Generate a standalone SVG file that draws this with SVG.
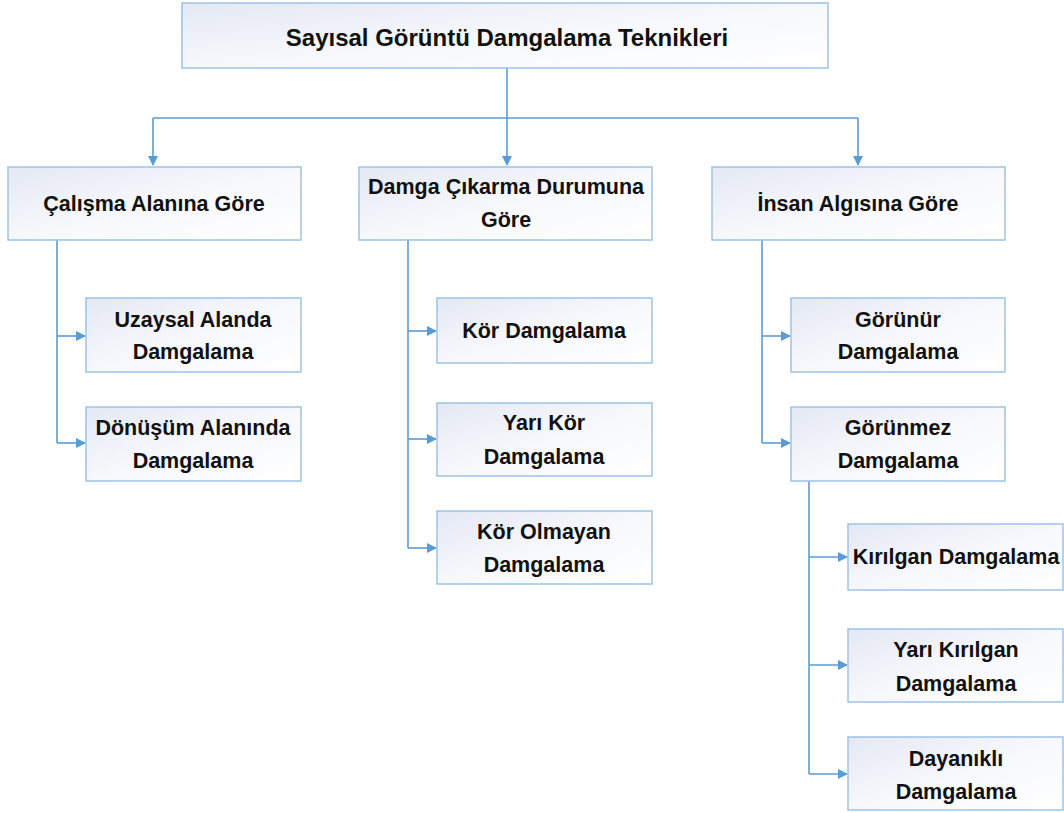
<svg xmlns="http://www.w3.org/2000/svg" width="1064" height="813" viewBox="0 0 1064 813">
<defs>
<linearGradient id="g" x1="0" y1="0" x2="1" y2="1">
<stop offset="0" stop-color="#e3e8f3"/>
<stop offset="0.5" stop-color="#f7f8fc"/>
<stop offset="1" stop-color="#ffffff"/>
</linearGradient>
<marker id="a" markerWidth="10" markerHeight="10" refX="9" refY="5" orient="auto" markerUnits="userSpaceOnUse">
<path d="M0,0 L10,5 L0,10 Z" fill="#5b9bd5"/>
</marker>
<style>
.b{fill:url(#g);stroke:#9dc3e6;stroke-width:1.5}
.t{font-family:"Liberation Sans",Arial,sans-serif;font-weight:bold;font-size:21.5px;fill:#111;text-anchor:middle;dominant-baseline:central}
.c{fill:none;stroke:#5b9bd5;stroke-width:1.6}
</style>
</defs>
<rect width="1064" height="813" fill="#fff"/>
<g id="connectors">
<path class="c" d="M507,68 V118"/>
<path class="c" d="M153,118 H858"/>
<path class="c" d="M153,118 V165" marker-end="url(#a)"/>
<path class="c" d="M507,118 V165" marker-end="url(#a)"/>
<path class="c" d="M858,118 V165" marker-end="url(#a)"/>
<path class="c" d="M57,240 V443"/>
<path class="c" d="M57,336 H85" marker-end="url(#a)"/>
<path class="c" d="M57,443 H85" marker-end="url(#a)"/>
<path class="c" d="M408,240 V548"/>
<path class="c" d="M408,331 H436" marker-end="url(#a)"/>
<path class="c" d="M408,439 H436" marker-end="url(#a)"/>
<path class="c" d="M408,548 H436" marker-end="url(#a)"/>
<path class="c" d="M762,240 V443"/>
<path class="c" d="M762,336 H790" marker-end="url(#a)"/>
<path class="c" d="M762,443 H790" marker-end="url(#a)"/>
<path class="c" d="M809,481 V774"/>
<path class="c" d="M809,557 H847" marker-end="url(#a)"/>
<path class="c" d="M809,665 H847" marker-end="url(#a)"/>
<path class="c" d="M809,774 H847" marker-end="url(#a)"/>
</g>
<g id="root"><rect class="b" x="182" y="3" width="646" height="65"/><text class="t" x="507" y="37" style="font-size:24px">Sayısal Görüntü Damgalama Teknikleri</text></g>
<g id="calisma"><rect class="b" x="8" y="167" width="293" height="73"/><text class="t" x="154" y="204">Çalışma Alanına Göre</text></g>
<g id="damga"><rect class="b" x="359" y="167" width="293" height="73"/><text class="t" x="506" y="187">Damga Çıkarma Durumuna</text><text class="t" x="506" y="220">Göre</text></g>
<g id="insan"><rect class="b" x="712" y="167" width="293" height="73"/><text class="t" x="858" y="204">İnsan Algısına Göre</text></g>
<g id="uzaysal"><rect class="b" x="86" y="298" width="215" height="74"/><text class="t" x="193" y="320">Uzaysal Alanda</text><text class="t" x="193" y="352">Damgalama</text></g>
<g id="donusum"><rect class="b" x="86" y="407" width="215" height="74"/><text class="t" x="193" y="428">Dönüşüm Alanında</text><text class="t" x="193" y="461">Damgalama</text></g>
<g id="kor"><rect class="b" x="437" y="298" width="215" height="65"/><text class="t" x="544" y="331">Kör Damgalama</text></g>
<g id="yarikor"><rect class="b" x="437" y="403" width="215" height="73"/><text class="t" x="544" y="423">Yarı Kör</text><text class="t" x="544" y="457">Damgalama</text></g>
<g id="korolmayan"><rect class="b" x="437" y="511" width="215" height="73"/><text class="t" x="544" y="532">Kör Olmayan</text><text class="t" x="544" y="565">Damgalama</text></g>
<g id="gorunur"><rect class="b" x="791" y="298" width="214" height="74"/><text class="t" x="898" y="320">Görünür</text><text class="t" x="898" y="352">Damgalama</text></g>
<g id="gorunmez"><rect class="b" x="791" y="407" width="214" height="74"/><text class="t" x="898" y="428">Görünmez</text><text class="t" x="898" y="461">Damgalama</text></g>
<g id="kirilgan"><rect class="b" x="848" y="524" width="215" height="66"/><text class="t" x="956" y="557">Kırılgan Damgalama</text></g>
<g id="yarikirilgan"><rect class="b" x="848" y="629" width="215" height="73"/><text class="t" x="956" y="650">Yarı Kırılgan</text><text class="t" x="956" y="684">Damgalama</text></g>
<g id="dayanikli"><rect class="b" x="848" y="737" width="215" height="73"/><text class="t" x="956" y="759">Dayanıklı</text><text class="t" x="956" y="792">Damgalama</text></g>
</svg>
